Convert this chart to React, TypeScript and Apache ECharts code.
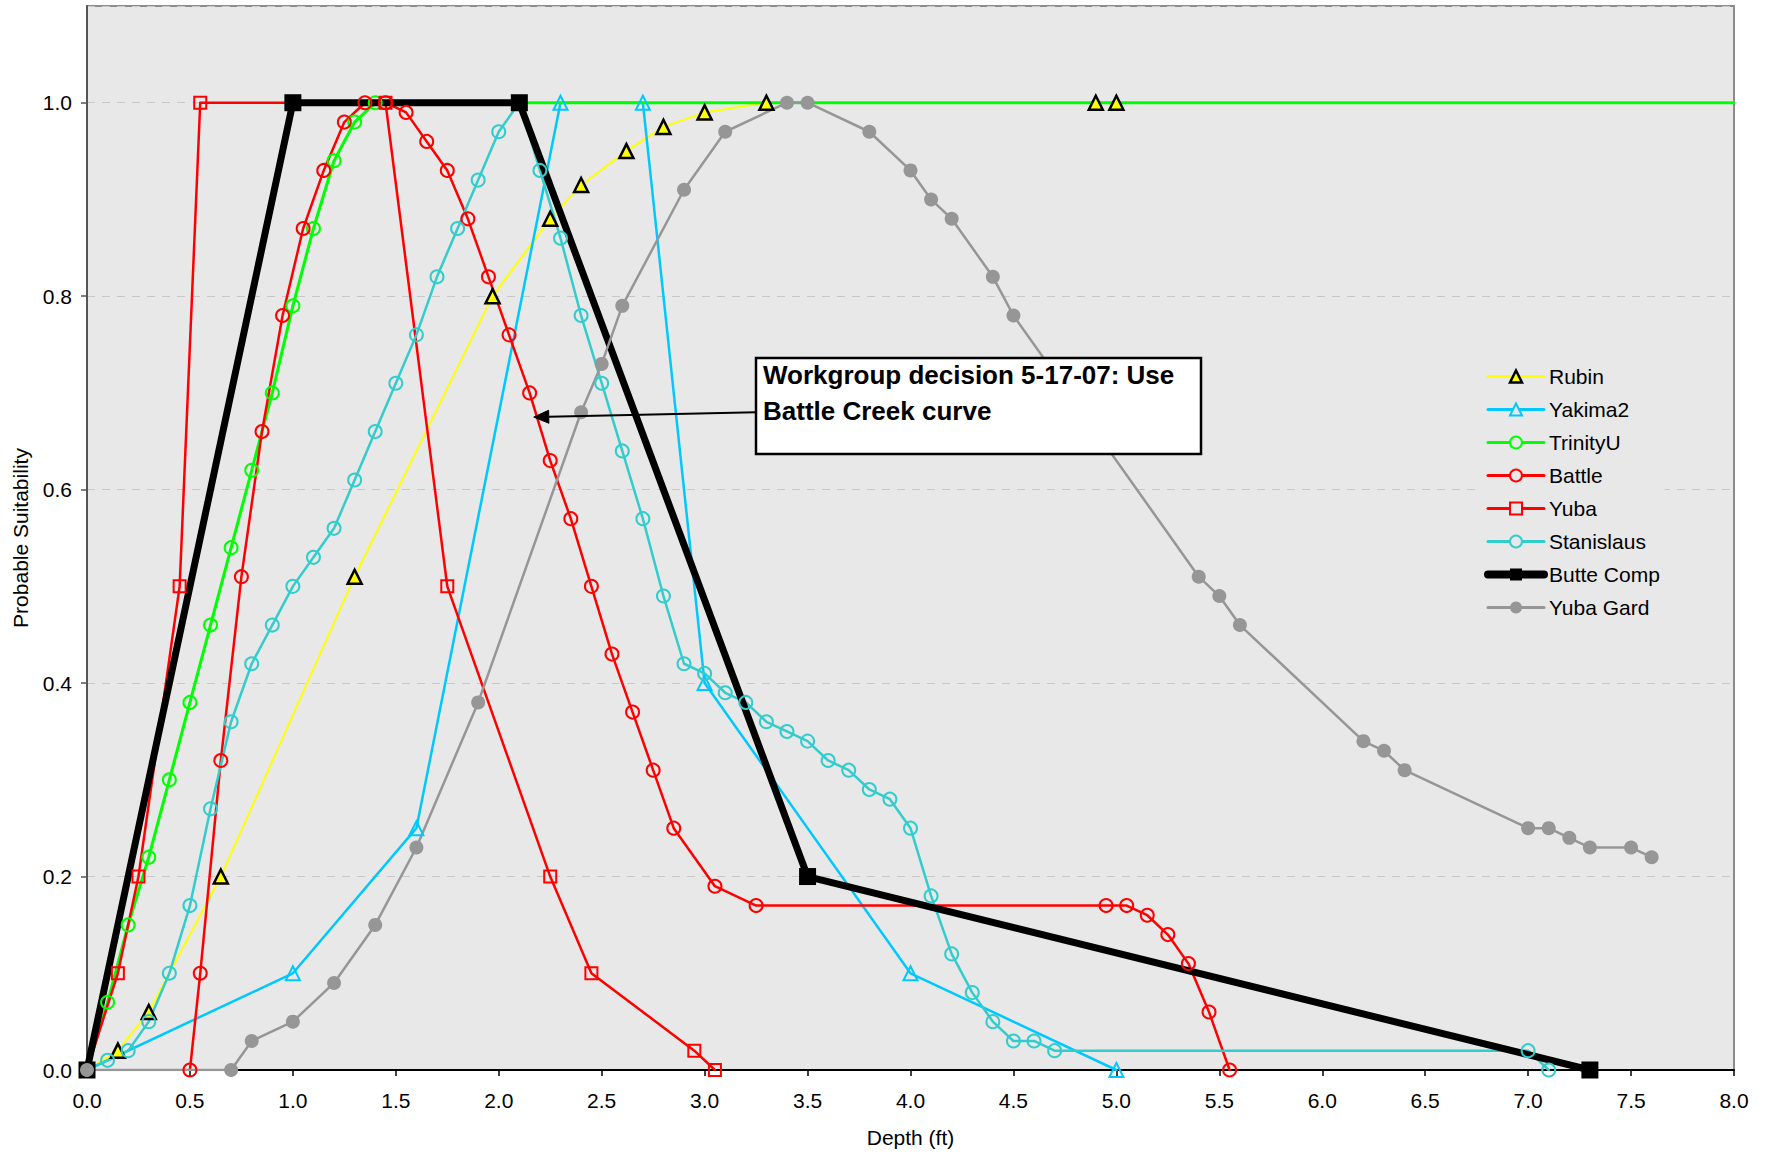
import React, { useEffect, useRef } from 'react';
import * as echarts from 'echarts';

// ---- Data (depth in ft, probable suitability) ----
const rubinX = [0, 0.15, 0.3, 0.65, 1.3, 1.97, 2.25, 2.4, 2.62, 2.8, 3.0, 3.3, 4.9, 5.0];
const rubinY = [0, 0.02, 0.06, 0.2, 0.51, 0.8, 0.88, 0.915, 0.95, 0.975, 0.99, 1.0, 1.0, 1.0];

const yakimaX = [0, 1.0, 1.6, 2.3, 2.7, 3.0, 4.0, 5.0];
const yakimaY = [0, 0.1, 0.25, 1.0, 1.0, 0.4, 0.1, 0.0];

const trinityX = [0, 0.1, 0.2, 0.3, 0.4, 0.5, 0.6, 0.7, 0.8, 0.9, 1.0, 1.1, 1.2, 1.3, 1.4];
const trinityY = [0, 0.07, 0.15, 0.22, 0.3, 0.38, 0.46, 0.54, 0.62, 0.7, 0.79, 0.87, 0.94, 0.98, 1.0];
const trinityTailX = 8.0; // line continues at 1.0 to the edge
const trinityTailY = 1.0;

const battleX = [0.5, 0.55, 0.65, 0.75, 0.85, 0.95, 1.05, 1.15, 1.25, 1.35, 1.45, 1.55, 1.65, 1.75, 1.85, 1.95, 2.05, 2.15, 2.25, 2.35, 2.45, 2.55, 2.65, 2.75, 2.85, 3.05, 3.25, 4.95, 5.05, 5.15, 5.25, 5.35, 5.45, 5.55];
const battleY = [0, 0.1, 0.32, 0.51, 0.66, 0.78, 0.87, 0.93, 0.98, 1.0, 1.0, 0.99, 0.96, 0.93, 0.88, 0.82, 0.76, 0.7, 0.63, 0.57, 0.5, 0.43, 0.37, 0.31, 0.25, 0.19, 0.17, 0.17, 0.17, 0.16, 0.14, 0.11, 0.06, 0.0];

const yubaX = [0, 0.15, 0.25, 0.45, 0.55, 1.45, 1.75, 2.25, 2.45, 2.95, 3.05];
const yubaY = [0, 0.1, 0.2, 0.5, 1.0, 1.0, 0.5, 0.2, 0.1, 0.02, 0.0];

const stanX = [0, 0.1, 0.2, 0.3, 0.4, 0.5, 0.6, 0.7, 0.8, 0.9, 1.0, 1.1, 1.2, 1.3, 1.4, 1.5, 1.6, 1.7, 1.8, 1.9, 2.0, 2.1, 2.2, 2.3, 2.4, 2.5, 2.6, 2.7, 2.8, 2.9, 3.0, 3.1, 3.2, 3.3, 3.4, 3.5, 3.6, 3.7, 3.8, 3.9, 4.0, 4.1, 4.2, 4.3, 4.4, 4.5, 4.6, 4.7, 7.0, 7.1];
const stanY = [0, 0.01, 0.02, 0.05, 0.1, 0.17, 0.27, 0.36, 0.42, 0.46, 0.5, 0.53, 0.56, 0.61, 0.66, 0.71, 0.76, 0.82, 0.87, 0.92, 0.97, 1.0, 0.93, 0.86, 0.78, 0.71, 0.64, 0.57, 0.49, 0.42, 0.41, 0.39, 0.38, 0.36, 0.35, 0.34, 0.32, 0.31, 0.29, 0.28, 0.25, 0.18, 0.12, 0.08, 0.05, 0.03, 0.03, 0.02, 0.02, 0.0];

const butteX = [0, 1.0, 2.1, 3.5, 7.3];
const butteY = [0, 1.0, 1.0, 0.2, 0.0];

const gardX = [0, 0.7, 0.8, 1.0, 1.2, 1.4, 1.6, 1.9, 2.4, 2.5, 2.6, 2.9, 3.1, 3.4, 3.5, 3.8, 4.0, 4.1, 4.2, 4.4, 4.5, 5.4, 5.5, 5.6, 6.2, 6.3, 6.4, 7.0, 7.1, 7.2, 7.3, 7.5, 7.6];
const gardY = [0, 0, 0.03, 0.05, 0.09, 0.15, 0.23, 0.38, 0.68, 0.73, 0.79, 0.91, 0.97, 1.0, 1.0, 0.97, 0.93, 0.9, 0.88, 0.82, 0.78, 0.51, 0.49, 0.46, 0.34, 0.33, 0.31, 0.25, 0.25, 0.24, 0.23, 0.23, 0.22];

const arrowFrom = [3.25, 0.68];
const arrowTo = [2.17, 0.675];
const noteText = 'Workgroup decision 5-17-07: Use\nBattle Creek curve';

const xMin = 0, xMax = 8, xStep = 0.5;
const yMin = 0, yMax = 1.1, yStep = 0.2;

const FONT = '"Liberation Sans", Arial, sans-serif';

const pairs = (xs: number[], ys: number[]) => xs.map((x, i) => [x, ys[i]]);
const CLEAR = 'rgba(0,0,0,0)';
const PLOT_BG = '#e8e8e8';

type Def = {
  name: string;
  line: number[][];
  marks: number[][];
  color: string;
  width: number;
  legendWidth: number;
  symbol: string;
  size: number;
  fill: string;
  border: string;
  borderWidth: number;
};

const defs: Def[] = [
  { name: 'Rubin', line: pairs(rubinX, rubinY), marks: pairs(rubinX, rubinY).slice(1), color: '#ffff00', width: 2, legendWidth: 3, symbol: 'triangle', size: 14, fill: '#ffff00', border: '#000000', borderWidth: 2.5 },
  { name: 'Yakima2', line: pairs(yakimaX, yakimaY), marks: pairs(yakimaX, yakimaY).slice(1), color: '#00c8ff', width: 2.5, legendWidth: 3, symbol: 'triangle', size: 14, fill: CLEAR, border: '#00c8ff', borderWidth: 2 },
  { name: 'TrinityU', line: [...pairs(trinityX, trinityY), [trinityTailX, trinityTailY]], marks: pairs(trinityX, trinityY).slice(1), color: '#00ff00', width: 3, legendWidth: 3, symbol: 'circle', size: 13, fill: CLEAR, border: '#00ff00', borderWidth: 2 },
  { name: 'Battle', line: pairs(battleX, battleY), marks: pairs(battleX, battleY), color: '#ff0000', width: 2.5, legendWidth: 3, symbol: 'circle', size: 13, fill: CLEAR, border: '#ff0000', borderWidth: 2 },
  { name: 'Yuba', line: pairs(yubaX, yubaY), marks: pairs(yubaX, yubaY).slice(1), color: '#ff0000', width: 2.5, legendWidth: 3, symbol: 'rect', size: 12, fill: CLEAR, border: '#ff0000', borderWidth: 2 },
  { name: 'Stanislaus', line: pairs(stanX, stanY), marks: pairs(stanX, stanY).slice(1), color: '#33cccc', width: 2.5, legendWidth: 3, symbol: 'circle', size: 13, fill: CLEAR, border: '#33cccc', borderWidth: 2 },
  { name: 'Butte Comp', line: pairs(butteX, butteY), marks: pairs(butteX, butteY), color: '#000000', width: 7, legendWidth: 8, symbol: 'rect', size: 17, fill: '#000000', border: '#000000', borderWidth: 0 },
  { name: 'Yuba Gard', line: pairs(gardX, gardY), marks: pairs(gardX, gardY), color: '#969696', width: 2.5, legendWidth: 3, symbol: 'circle', size: 14, fill: '#969696', border: '#969696', borderWidth: 0 },
];

const boxGraphics = [
  {
    type: 'rect',
    id: 'noteBox',
    z: 100,
    shape: { x: 756, y: 358, width: 445, height: 96 },
    style: { fill: '#ffffff', stroke: '#000000', lineWidth: 2.5 },
  },
  {
    type: 'text',
    id: 'noteText',
    z: 101,
    x: 763,
    y: 357,
    style: {
      text: noteText,
      font: 'bold 26px "Liberation Sans", Arial, sans-serif',
      lineHeight: 36,
      fill: '#000',
      verticalAlign: 'top',
      align: 'left',
    },
  },
];

function buildOption() {
  const lineSeries = defs.map((d) => ({
    type: 'line',
    name: d.name,
    data: d.line,
    z: 2,
    showSymbol: false,
    symbol: d.symbol,
    symbolSize: d.size,
    clip: true,
    lineStyle: { color: d.color, width: d.width, cap: 'round', join: 'round' },
    itemStyle: { color: d.fill === CLEAR ? PLOT_BG : d.fill, borderColor: d.border, borderWidth: d.borderWidth },
    emphasis: { disabled: true },
    silent: true,
  }));
  const markSeries = defs.map((d) => ({
    type: 'scatter',
    name: d.name + ' markers',
    data: d.marks,
    z: 3,
    symbol: d.symbol,
    symbolSize: d.size,
    itemStyle: { color: d.fill, borderColor: d.border, borderWidth: d.borderWidth, opacity: 1 },
    emphasis: { disabled: true },
    silent: true,
  }));

  return {
    animation: false,
    backgroundColor: '#ffffff',
    textStyle: { fontFamily: FONT },
    grid: {
      left: 87,
      right: 41,
      top: 6,
      bottom: 86,
      show: true,
      backgroundColor: PLOT_BG,
      borderColor: '#8c8c8c',
      borderWidth: 2,
    },
    legend: {
      data: defs.map((d) => ({
        name: d.name,
        itemStyle: {
          color: d.fill === CLEAR ? PLOT_BG : d.fill,
          borderColor: d.border,
          borderWidth: d.borderWidth,
        },
        lineStyle: { color: d.color, width: d.legendWidth, cap: 'round' },
      })),
      orient: 'vertical',
      left: 1479,
      top: 361,
      padding: 5,
      backgroundColor: PLOT_BG,
      itemWidth: 56,
      itemHeight: 15,
      itemGap: 12,
      textStyle: { fontSize: 21, color: '#000', fontFamily: FONT, lineHeight: 21 },
      selectedMode: false,
    },
    xAxis: {
      type: 'value',
      min: xMin,
      max: xMax,
      interval: xStep,
      name: 'Depth (ft)',
      nameLocation: 'middle',
      nameGap: 57,
      nameTextStyle: { fontSize: 21, color: '#000', fontFamily: FONT },
      axisLine: { show: true, lineStyle: { color: '#000', width: 2 } },
      axisTick: { show: true, length: 6, lineStyle: { color: '#000', width: 1.5 } },
      axisLabel: { fontSize: 21, color: '#000', margin: 20, formatter: (v: number) => v.toFixed(1) },
      splitLine: { show: false },
    },
    yAxis: {
      type: 'value',
      min: yMin,
      max: yMax,
      interval: yStep,
      name: 'Probable Suitability',
      nameLocation: 'middle',
      nameGap: 56,
      nameTextStyle: { fontSize: 21, color: '#000', fontFamily: FONT },
      axisLine: { show: true, lineStyle: { color: '#555', width: 2 } },
      axisTick: { show: true, length: 6, lineStyle: { color: '#555', width: 1.5 } },
      axisLabel: { fontSize: 21, color: '#000', margin: 15, showMaxLabel: false, formatter: (v: number) => v.toFixed(1) },
      splitLine: { show: true, lineStyle: { color: '#c8c8c8', width: 1, type: [8, 7] } },
    },
    graphic: boxGraphics,
    series: [...lineSeries, ...markSeries],
  };
}

export default function App() {
  const ref = useRef<HTMLDivElement>(null);
  useEffect(() => {
    const chart = echarts.init(ref.current as HTMLDivElement, null, { renderer: 'svg' });
    chart.setOption(buildOption() as any);
    // Arrow of the annotation, placed through the axes' scales
    const p0 = chart.convertToPixel({ gridIndex: 0 }, arrowFrom) as number[];
    const p1 = chart.convertToPixel({ gridIndex: 0 }, arrowTo) as number[];
    if (p0 && p1) {
      const dx = p1[0] - p0[0];
      const dy = p1[1] - p0[1];
      const len = Math.sqrt(dx * dx + dy * dy) || 1;
      const ux = dx / len, uy = dy / len;
      const headLen = 15, headHalf = 6.5;
      const bx = p1[0] - ux * headLen, by = p1[1] - uy * headLen;
      const nx = -uy, ny = ux;
      chart.setOption({
        graphic: [
          ...boxGraphics,
          {
            type: 'line',
            id: 'arrowLine',
            z: 99,
            shape: { x1: p0[0], y1: p0[1], x2: bx, y2: by },
            style: { stroke: '#000', lineWidth: 2 },
          },
          {
            type: 'polygon',
            id: 'arrowHead',
            z: 99,
            shape: {
              points: [
                [p1[0], p1[1]],
                [bx + nx * headHalf, by + ny * headHalf],
                [bx - nx * headHalf, by - ny * headHalf],
              ],
            },
            style: { fill: '#000', stroke: '#000', lineWidth: 1 },
          },
        ],
      } as any);
    }
    return () => chart.dispose();
  }, []);
  return (
    <div
      ref={ref}
      style={{ position: 'absolute', left: 0, top: 0, width: 1775, height: 1156, background: '#fff' }}
    />
  );
}
